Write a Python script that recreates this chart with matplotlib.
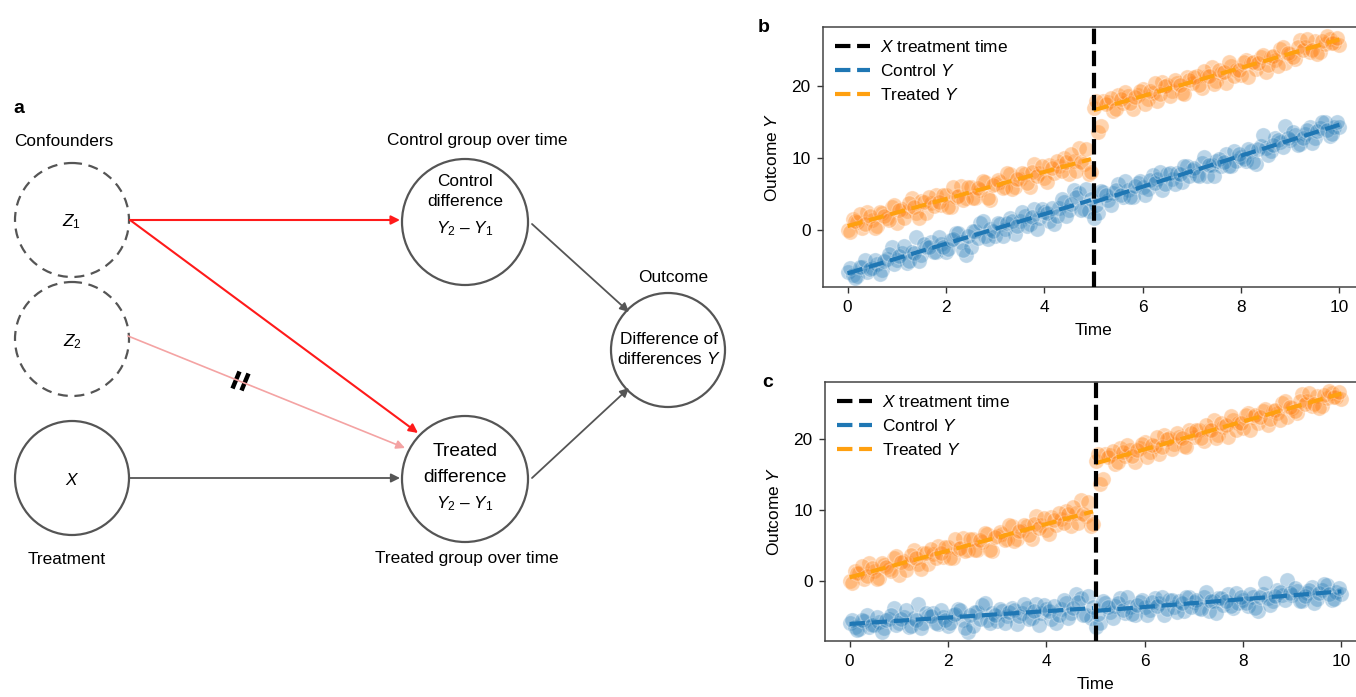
import matplotlib

matplotlib.use("Agg")

import matplotlib.pyplot as plt
import numpy as np
from matplotlib.patches import Circle

plt.rcParams["font.family"] = ["Liberation Sans", "DejaVu Sans"]
plt.rcParams["mathtext.fontset"] = "custom"
plt.rcParams["mathtext.rm"] = "Liberation Sans"
plt.rcParams["mathtext.it"] = "Liberation Sans:italic"
plt.rcParams["mathtext.bf"] = "Liberation Sans:bold"

FS = 12.4

# ---- data for panels b and c ----
# samples on whole tenths
time = [
    0.0, 0.1, 0.2, 0.3, 0.4, 0.5, 0.6, 0.7, 0.8, 0.9, 1.0, 1.1, 1.2, 1.3, 1.4, 1.5, 1.6, 1.7, 1.8, 1.9,
    2.0, 2.1, 2.2, 2.3, 2.4, 2.5, 2.6, 2.7, 2.8, 2.9, 3.0, 3.1, 3.2, 3.3, 3.4, 3.5, 3.6, 3.7, 3.8, 3.9,
    4.0, 4.1, 4.2, 4.3, 4.4, 4.5, 4.6, 4.7, 4.8, 4.9, 5.0, 5.1, 5.2, 5.3, 5.4, 5.5, 5.6, 5.7, 5.8, 5.9,
    6.0, 6.1, 6.2, 6.3, 6.4, 6.5, 6.6, 6.7, 6.8, 6.9, 7.0, 7.1, 7.2, 7.3, 7.4, 7.5, 7.6, 7.7, 7.8, 7.9,
    8.0, 8.1, 8.2, 8.3, 8.4, 8.5, 8.6, 8.7, 8.8, 8.9, 9.0, 9.1, 9.2, 9.3, 9.4, 9.5, 9.6, 9.7, 9.8, 9.9,
    10.0,
]

control_b = [
    -5.8, -6.3, -6.4, -5.1, -5.8, -5.3, -4.7, -5.5, -4.0, -2.3, -4.2, -3.2, -4.6, -3.1, -1.0, -3.4, -2.3, -1.7, -3.1, -2.0,
    -3.1, -1.4, -0.4, -1.7, -3.4, -2.3, -0.1, 0.9, -0.9, 0.1, -0.8, 0.8, 0.2, 1.6, -0.6, 1.2, 2.0, 0.8, 2.9, 1.7,
    2.5, 1.3, 0.8, 3.0, 3.9, 2.7, 5.6, 5.1, 2.9, 2.6, 1.6, 2.4, 5.3, 4.2, 5.1, 6.4, 4.6, 5.5, 4.6, 6.5,
    6.0, 5.7, 7.6, 7.0, 5.5, 7.8, 7.0, 7.9, 6.7, 8.8, 8.3, 7.6, 9.3, 7.5, 9.0, 9.6, 8.8, 10.5, 8.8, 9.5,
    10.1, 9.5, 10.9, 9.1, 11.6, 11.3, 11.0, 12.7, 12.2, 14.4, 12.4, 13.2, 11.9, 13.3, 14.2, 12.7, 14.1, 15.0, 13.0, 14.3,
    14.2,
]

control_c = [
    -5.8, -6.5, -6.7, -5.6, -6.4, -6.1, -5.7, -6.6, -5.3, -3.7, -5.8, -5.0, -6.5, -5.2, -3.2, -5.8, -4.9, -4.4, -6.0, -5.0,
    -6.3, -4.8, -3.9, -5.4, -7.2, -6.3, -4.3, -3.4, -5.4, -4.5, -5.6, -4.2, -4.9, -3.7, -6.0, -4.4, -3.8, -5.1, -3.2, -4.5,
    -3.9, -5.3, -5.9, -3.9, -3.1, -4.5, -1.8, -2.4, -4.8, -5.2, -6.4, -5.8, -3.0, -4.3, -3.5, -2.4, -4.4, -3.6, -4.7, -2.9,
    -3.6, -4.1, -2.3, -3.1, -4.7, -2.6, -3.6, -2.8, -4.2, -2.2, -2.9, -3.8, -2.2, -4.2, -2.8, -2.4, -3.4, -1.8, -3.7, -3.1,
    -2.7, -3.5, -2.2, -4.2, -1.8, -2.3, -2.8, -1.2, -1.9, 0.2, -2.0, -1.4, -2.8, -1.6, -0.8, -2.5, -1.3, -0.5, -2.7, -1.5,
    -1.8,
]

treated = [
    0.0, 1.5, 1.1, 0.3, 2.5, 1.4, 0.5, 2.3, 1.7, 3.2, 0.9, 2.9, 2.6, 4.4, 2.4, 4.0, 2.4, 3.8, 4.9, 3.4,
    4.8, 3.2, 4.6, 6.1, 4.4, 5.9, 4.4, 5.5, 6.6, 4.2, 6.3, 6.7, 6.0, 7.8, 6.0, 7.0, 7.8, 6.0, 9.1, 7.9,
    7.2, 9.0, 7.9, 8.8, 9.9, 7.8, 9.6, 11.4, 9.2, 7.8, 16.9, 13.6, 17.9, 17.7, 16.5, 18.7, 17.6, 18.5, 16.7, 18.7,
    19.5, 18.1, 19.0, 17.9, 20.5, 20.1, 19.3, 20.3, 19.0, 21.2, 20.3, 21.3, 19.7, 21.3, 22.6, 20.6, 21.7, 20.3, 22.7, 22.2,
    21.5, 23.6, 23.1, 22.3, 23.9, 21.9, 23.9, 23.6, 25.1, 23.1, 24.3, 23.7, 26.3, 25.3, 24.6, 26.1, 24.6, 25.7, 26.4, 25.9,
    25.6,
]

# samples halfway between the tenths
time_mid = [
    0.05, 0.15, 0.25, 0.35, 0.45, 0.55, 0.65, 0.75, 0.85, 0.95, 1.05, 1.15, 1.25, 1.35, 1.45, 1.55, 1.65, 1.75, 1.85, 1.95,
    2.05, 2.15, 2.25, 2.35, 2.45, 2.55, 2.65, 2.75, 2.85, 2.95, 3.05, 3.15, 3.25, 3.35, 3.45, 3.55, 3.65, 3.75, 3.85, 3.95,
    4.05, 4.15, 4.25, 4.35, 4.45, 4.55, 4.65, 4.75, 4.85, 4.95, 5.05, 5.15, 5.25, 5.35, 5.45, 5.55, 5.65, 5.75, 5.85, 5.95,
    6.05, 6.15, 6.25, 6.35, 6.45, 6.55, 6.65, 6.75, 6.85, 6.95, 7.05, 7.15, 7.25, 7.35, 7.45, 7.55, 7.65, 7.75, 7.85, 7.95,
    8.05, 8.15, 8.25, 8.35, 8.45, 8.55, 8.65, 8.75, 8.85, 8.95, 9.05, 9.15, 9.25, 9.35, 9.45, 9.55, 9.65, 9.75, 9.85, 9.95,
]

control_b_mid = [
    -5.3, -6.6, -5.1, -4.1, -5.4, -4.1, -6.1, -4.3, -3.3, -4.7, -3.6, -2.2, -4.3, -3.2, -4.3, -2.0, -2.3, -3.0, -1.0, -2.3,
    -2.6, -1.2, -0.4, -2.8, -0.9, -0.2, -1.1, 1.3, -1.2, -0.1, 1.0, -0.8, 0.9, 1.3, 0.6, 2.5, 0.5, 1.8, 0.1, 2.9,
    2.3, 3.1, 2.0, 4.3, 1.9, 3.6, 4.5, 2.8, 5.7, 4.3, 3.5, 5.4, 4.8, 3.4, 5.6, 4.9, 6.8, 4.6, 6.1, 6.8,
    4.9, 6.9, 6.5, 8.0, 6.4, 7.9, 6.3, 7.7, 8.8, 7.5, 8.6, 7.5, 10.1, 9.0, 7.5, 9.8, 9.4, 8.9, 10.9, 10.5,
    9.8, 11.2, 9.4, 11.2, 13.2, 10.4, 11.7, 12.5, 11.5, 12.7, 13.5, 11.8, 12.7, 13.8, 12.0, 13.7, 15.0, 13.8, 13.3, 14.9,
]

control_c_mid = [
    -5.4, -6.8, -5.5, -4.7, -6.1, -5.0, -7.1, -5.5, -4.7, -6.2, -5.3, -4.0, -6.3, -5.4, -6.6, -4.5, -4.9, -5.8, -4.0, -5.4,
    -5.9, -4.6, -4.0, -6.6, -4.8, -4.3, -5.3, -3.1, -5.8, -4.8, -3.9, -5.8, -4.3, -4.1, -4.9, -3.2, -5.3, -4.2, -6.1, -3.4,
    -4.2, -3.5, -4.8, -2.7, -5.2, -3.7, -2.9, -4.8, -2.1, -3.6, -4.6, -2.8, -3.6, -5.2, -3.1, -4.0, -2.2, -4.6, -3.3, -2.7,
    -4.8, -2.9, -3.5, -2.2, -3.9, -2.6, -4.3, -3.1, -2.2, -3.6, -2.7, -3.9, -1.5, -2.8, -4.4, -2.3, -2.8, -3.5, -1.7, -2.2,
    -3.1, -1.8, -3.8, -2.2, -0.3, -3.3, -2.1, -1.5, -2.7, -1.6, -1.0, -2.8, -2.1, -1.2, -3.1, -1.6, -0.4, -1.8, -2.5, -1.0,
]

treated_mid = [
    -0.3, 1.2, 2.2, 0.8, 1.9, 0.3, 2.5, 2.0, 1.4, 3.5, 2.7, 1.6, 3.7, 3.2, 1.7, 3.9, 4.6, 3.3, 3.9, 4.8,
    3.2, 6.0, 4.7, 4.2, 6.0, 4.4, 5.8, 6.8, 4.4, 6.2, 6.9, 5.8, 7.9, 5.7, 7.0, 7.9, 6.5, 8.0, 7.5, 8.9,
    6.6, 8.6, 9.6, 8.2, 9.4, 10.5, 8.2, 9.4, 11.2, 8.0, 17.9, 14.4, 17.5, 18.3, 16.7, 18.2, 19.1, 17.6, 18.4, 19.3,
    17.5, 19.2, 20.3, 18.8, 20.0, 18.6, 20.8, 20.1, 18.8, 20.8, 21.2, 20.1, 22.0, 21.3, 20.2, 22.2, 21.9, 23.2, 21.3, 22.2,
    23.3, 21.2, 23.3, 23.1, 24.2, 22.8, 24.1, 22.7, 25.4, 24.5, 23.9, 25.4, 24.9, 26.5, 24.9, 24.4, 26.2, 26.8, 25.9, 26.6,
]

treatment_time = 5.0

# ---- layout of the causal diagram (figure pixels, y down) ----
NODES = {
    "Z1": (72, 220, 57),
    "Z2": (72, 339, 57),
    "X": (72, 478, 57),
    "ctrl": (465, 222, 63),
    "trt": (465, 479, 63),
    "out": (668, 350, 57),
}

RED = "#ff1a1a"
PINK = "#f4a3a3"
GRAY = "#555555"
BLUE = "#1f77b4"
ORANGE_PTS = "#ff7f0e"
ORANGE_LINE = "#ffa010"

fig = plt.figure(figsize=(13.56, 6.97), dpi=100)

# ---------------- panel a ----------------
ax = fig.add_axes([0, 0, 1, 1])
ax.set_xlim(0, 1356)
ax.set_ylim(697, 0)
ax.axis("off")

for key, (cx, cy, r) in NODES.items():
    dashed = key in ("Z1", "Z2")
    ax.add_patch(Circle((cx, cy), r, fill=False, edgecolor=GRAY, lw=1.6,
                        linestyle=(0, (4.5, 3)) if dashed else "-"))


def arrow(x0, y0, x1, y1, color, lw=1.3):
    ax.annotate("", xy=(x1, y1), xytext=(x0, y0),
                arrowprops=dict(arrowstyle="-|>", color=color, lw=lw,
                                mutation_scale=13, shrinkA=0, shrinkB=0))


arrow(130, 220, 400, 220, RED, 1.5)
arrow(130, 220, 418, 433, RED, 1.5)
arrow(128, 336, 405, 448, PINK, 1.2)
arrow(130, 478, 400, 478, GRAY)
arrow(532, 224, 629, 312, GRAY)
arrow(532, 478, 629, 388, GRAY)

# blocked path marks
for sx, sy in [(236, 380), (245, 382)]:
    ax.plot([sx + 3.5, sx - 3.5], [sy - 8.5, sy + 8.5], color="black", lw=3.2,
            solid_capstyle="butt")

ax.text(13, 113, "a", fontsize=14, fontweight="bold", ha="left", va="baseline")
ax.text(64, 141, "Confounders", fontsize=FS, ha="center", va="center")
ax.text(72, 222, "$Z_1$", fontsize=FS, ha="center", va="center")
ax.text(72, 342, "$Z_2$", fontsize=FS, ha="center", va="center")
ax.text(72, 480, "$X$", fontsize=FS, ha="center", va="center")
ax.text(67, 559, "Treatment", fontsize=FS, ha="center", va="center")

ax.text(477, 141, "Control group over time", fontsize=FS, ha="center", va="center")
ax.text(465, 181, "Control", fontsize=FS, ha="center", va="center")
ax.text(465, 201, "difference", fontsize=FS, ha="center", va="center")
ax.text(465, 229, "$Y_2$ – $Y_1$", fontsize=FS, ha="center", va="center")

ax.text(673, 277, "Outcome", fontsize=FS, ha="center", va="center")
ax.text(669, 339, "Difference of", fontsize=FS, ha="center", va="center")
ax.text(669, 359, "differences $Y$", fontsize=FS, ha="center", va="center")

ax.text(465, 452, "Treated", fontsize=13.8, ha="center", va="center")
ax.text(465, 477, "difference", fontsize=13.8, ha="center", va="center")
ax.text(465, 504, "$Y_2$ – $Y_1$", fontsize=FS, ha="center", va="center")
ax.text(467, 559, "Treated group over time", fontsize=FS, ha="center", va="center")


# ---------------- panels b and c ----------------
def did_panel(rect, control, control_mid, ylim):
    axp = fig.add_axes(rect)
    t = np.concatenate([time, time_mid])
    yc = np.concatenate([control, control_mid])
    yt = np.concatenate([treated, treated_mid])
    axp.scatter(t, yc, s=120, color=BLUE, alpha=0.3, edgecolors="white", linewidths=0.8, zorder=2)
    axp.scatter(t, yt, s=120, color=ORANGE_PTS, alpha=0.33, edgecolors="white", linewidths=0.8, zorder=2)

    axp.axvline(treatment_time, color="black", ls="--", lw=3, zorder=4,
                label="$X$ treatment time")
    for y, color, label in [(yc, BLUE, "Control $Y$"), (yt, ORANGE_LINE, "Treated $Y$")]:
        for k, mask in enumerate([t < treatment_time, t >= treatment_time]):
            slope, icpt = np.polyfit(t[mask], y[mask], 1)
            xs = np.array([t[mask].min(), t[mask].max()])
            axp.plot(xs, icpt + slope * xs, color=color, ls="--", lw=3, zorder=3,
                     label=label if k == 0 else None)

    axp.set_xlim(-0.5, 10.5)
    axp.set_ylim(*ylim)
    axp.set_xticks([0, 2, 4, 6, 8, 10])
    axp.set_yticks([0, 10, 20])
    axp.tick_params(direction="out", length=4, width=1, labelsize=FS, colors="#333333",
                    labelcolor="black", pad=5)
    for sp in axp.spines.values():
        sp.set_color("#444444")
        sp.set_linewidth(1.1)
    axp.set_xlabel("Time", fontsize=FS, labelpad=6)
    axp.set_ylabel("Outcome $Y$", fontsize=FS, labelpad=8)
    axp.legend(loc="upper left", frameon=False, fontsize=FS, handlelength=2.0,
               borderaxespad=0.3, labelspacing=0.45, handletextpad=0.6)
    return axp


did_panel([823 / 1356, 1 - 287 / 697, 541 / 1356, 260 / 697], control_b, control_b_mid, (-7.9, 28.1))
did_panel([825 / 1356, 1 - 641 / 697, 541 / 1356, 259 / 697], control_c, control_c_mid, (-8.4, 28.0))

fig.text(758 / 1356, 1 - 32 / 697, "b", fontsize=14, fontweight="bold", va="baseline")
fig.text(762 / 1356, 1 - 387 / 697, "c", fontsize=14, fontweight="bold", va="baseline")

fig.savefig("out.png", dpi=100, facecolor="white")
